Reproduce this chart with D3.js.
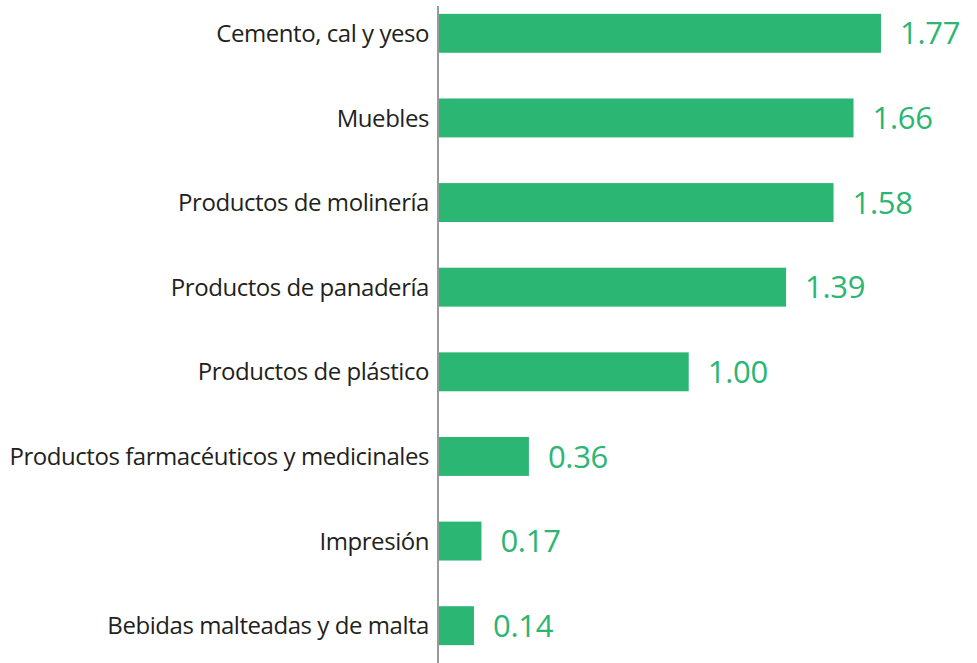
<!DOCTYPE html>
<html>
<head>
<meta charset="utf-8">
<script src="https://cdn.jsdelivr.net/npm/d3@7"></script>
<style>
  body { margin: 0; background: #fff; }
  .cat { font-family: "Open Sans", sans-serif; font-size: 24px; fill: #231f20; letter-spacing: -0.45px; }
  .val { font-family: "Open Sans", sans-serif; font-size: 31px; fill: #2bb673; letter-spacing: -0.3px; }
</style>
</head>
<body>
<div id="chart"></div>
<script>
// data
const categories = [
  "Cemento, cal y yeso",
  "Muebles",
  "Productos de molinería",
  "Productos de panadería",
  "Productos de plástico",
  "Productos farmacéuticos y medicinales",
  "Impresión",
  "Bebidas malteadas y de malta"
];
const values = [1.77, 1.66, 1.58, 1.39, 1.00, 0.36, 0.17, 0.14];
const valueLabels = ["1.77", "1.66", "1.58", "1.39", "1.00", "0.36", "0.17", "0.14"];

// ---------------------------------------
// svg params
const margin = {top: 0, right: 0, bottom: 0, left: 438};
const width = 977 - margin.left - margin.right;
const height = 663 - margin.top - margin.bottom;

const svg = d3.select("#chart")
    .append("svg")
    .attr("width", width + margin.left + margin.right)
    .attr("height", height + margin.top + margin.bottom)
    .append("g")
    .attr("transform", "translate(" + margin.left + "," + margin.top + ")");

// scales
const x = d3.scaleLinear()
    .domain([0, 1.77])
    .range([0, 442]);

const y = d3.scaleBand()
    .domain(categories)
    .range([-9, 668])
    .paddingInner(0.54)
    .paddingOuter(0.27);

const data = categories.map((c, i) => ({name: c, value: values[i], label: valueLabels[i]}));

// bars
svg.selectAll(".bar")
    .data(data)
    .enter()
    .append("rect")
    .attr("class", "bar")
    .attr("x", 1)
    .attr("y", (d) => y(d.name))
    .attr("width", (d) => x(d.value))
    .attr("height", y.bandwidth())
    .attr("fill", "#2bb673");

// value labels
svg.selectAll(".val")
    .data(data)
    .enter()
    .append("text")
    .attr("class", "val")
    .attr("x", (d) => x(d.value) + 20)
    .attr("y", (d) => y(d.name) + y.bandwidth()/2)
    .attr("dy", "0.36em")
    .text((d) => d.label);

// category labels
svg.selectAll(".cat")
    .data(data)
    .enter()
    .append("text")
    .attr("class", "cat")
    .attr("x", -9)
    .attr("y", (d) => y(d.name) + y.bandwidth()/2)
    .attr("dy", "0.36em")
    .attr("text-anchor", "end")
    .text((d) => d.name);

// vertical axis line
svg.append("line")
    .attr("x1", 0)
    .attr("x2", 0)
    .attr("y1", 6)
    .attr("y2", height)
    .attr("stroke", "#999")
    .attr("stroke-width", 2);
</script>
</body>
</html>
